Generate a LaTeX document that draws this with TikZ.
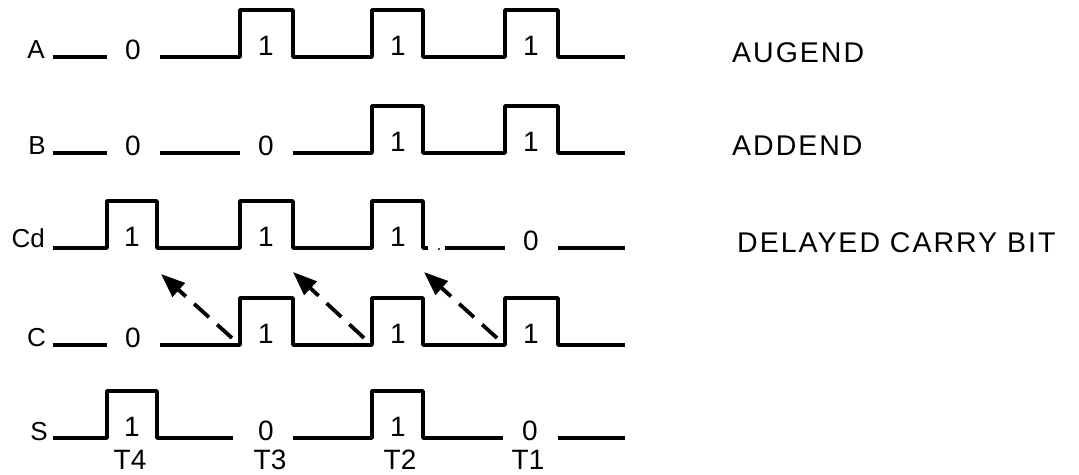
\documentclass[tikz,border=0pt]{standalone}
\usepackage{fontspec}
\setmainfont{Liberation Sans}
\newfontfamily\tagfont[LetterSpace=7]{Liberation Sans}
\usetikzlibrary{arrows.meta}

\begin{document}
\begin{tikzpicture}[x=1pt,y=-1pt,
  wave/.style={line width=3.5pt,line join=round},
  sig/.style={anchor=base east,inner sep=0pt,font=\fontsize{26}{26}\selectfont},
  bit/.style={anchor=base,inner sep=0pt,font=\fontsize{28}{28}\selectfont},
  tag/.style={anchor=base west,inner sep=0pt,font=\fontsize{28.5}{29}\tagfont},
  carry/.style={line width=3.8pt,dash pattern=on 20pt off 11pt,-{Triangle[length=24pt,width=18pt]}}]
\useasboundingbox (0,0) rectangle (1079,474);
% A -- augend
\node[sig] (sigA) at (45,58) {A};
\draw[wave] (53,57)--(107,57);
\node[bit] (a1) at (133,59) {0};
\draw[wave] (160,57)--(240,57)--(240,10)--(293,10)--(293,57)--(372,57)--(372,10)--(423,10)--(423,57)--(505,57)--(505,10)--(558,10)--(558,57)--(625,57);
\node[bit] (a2) at (266,55) {1};
\node[bit] (a3) at (398,55) {1};
\node[bit] (a4) at (531,55) {1};
\node[tag] (augend) at (732,62) {AUGEND};
% B -- addend
\node[sig] (sigB) at (46,154) {B};
\draw[wave] (53,153)--(107,153);
\node[bit] (b1) at (133,155) {0};
\draw[wave] (160,153)--(240,153);
\node[bit] (b2) at (266,155) {0};
\draw[wave] (293,153)--(372,153)--(372,106)--(423,106)--(423,153)--(505,153)--(505,106)--(558,106)--(558,153)--(625,153);
\node[bit] (b3) at (398,151) {1};
\node[bit] (b4) at (531,151) {1};
\node[tag] (addend) at (732,155) {ADDEND};
% Cd -- delayed carry
\node[sig] (sigCd) at (45,247) {Cd};
\draw[wave] (53,248)--(107,248)--(107,201)--(157,201)--(157,248)--(240,248)--(240,201)--(293,201)--(293,248)--(372,248)--(372,201)--(423,201)--(423,248)--(428,248);
\fill (439,249) circle (1.2pt);
\draw[wave] (445,248)--(505,248);
\node[bit] (cd4) at (531,250) {0};
\draw[wave] (558,248)--(625,248);
\node[bit] (cd1) at (132,246) {1};
\node[bit] (cd2) at (266,246) {1};
\node[bit] (cd3) at (398,246) {1};
\node[tag] (delayed) at (737,252) {DELAYED CARRY BIT};
% C -- carry
\node[sig] (sigC) at (46,346) {C};
\draw[wave] (53,345)--(107,345);
\node[bit] (c1) at (133,347) {0};
\draw[wave] (160,345)--(240,345)--(240,298)--(293,298)--(293,345)--(372,345)--(372,298)--(423,298)--(423,345)--(505,345)--(505,298)--(558,298)--(558,345)--(625,345);
\node[bit] (c2) at (266,343) {1};
\node[bit] (c3) at (398,343) {1};
\node[bit] (c4) at (531,343) {1};
% carry moved one bit time
\coordinate (cr2) at (232,338);
\coordinate (cr3) at (364,338);
\coordinate (cr4) at (497,338);
\coordinate (cdf1) at (161,274);
\coordinate (cdf2) at (293,272);
\coordinate (cdf3) at (424,272);
\draw[carry] (cr2)--(cdf1);
\draw[carry] (cr3)--(cdf2);
\draw[carry] (cr4)--(cdf3);
% S -- sum
\node[sig] (sigS) at (48,440) {S};
\draw[wave] (53,438)--(107,438)--(107,391)--(157,391)--(157,438)--(233,438);
\node[bit] (s2) at (266,440) {0};
\draw[wave] (293,438)--(372,438)--(372,391)--(423,391)--(423,438)--(503,438);
\node[bit] (s4) at (530,440) {0};
\draw[wave] (558,438)--(625,438);
\node[bit] (s1) at (132,436) {1};
\node[bit] (s3) at (398,436) {1};
% bit times
\node[bit] (t4) at (130,469) {T4};
\node[bit] (t3) at (270,469) {T3};
\node[bit] (t2) at (400,469) {T2};
\node[bit] (t1) at (528,469) {T1};
\end{tikzpicture}
\end{document}
